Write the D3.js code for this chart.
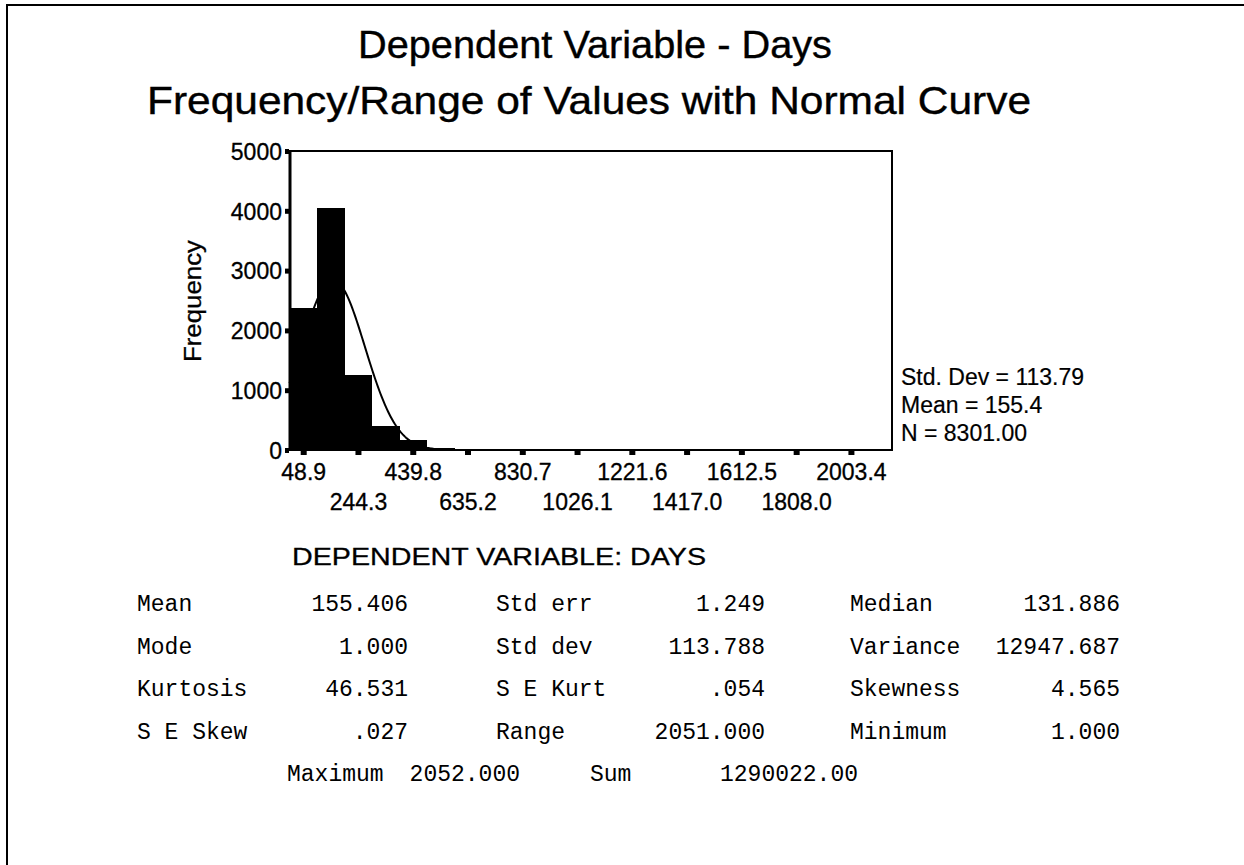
<!DOCTYPE html>
<html><head><meta charset="utf-8">
<script src="https://cdn.jsdelivr.net/npm/d3@7"></script>
<style>body{margin:0;background:#fff}svg{display:block}</style>
</head><body><svg id="c" width="1244" height="865"></svg>
<script>
// ---- data ----
const binCounts = [2380, 4050, 1250, 400, 160, 40, 12, 4, 2, 1, 1, 0, 0, 0, 0, 0, 0, 0, 0, 0, 1];
const binStart = 0.04, binWidth = 97.73;
const xTickValues = [48.9, 244.3, 439.8, 635.2, 830.7, 1026.1, 1221.6, 1417.0, 1612.5, 1808.0, 2003.4];
const xTickLabels = ["48.9", "244.3", "439.8", "635.2", "830.7", "1026.1", "1221.6", "1417.0", "1612.5", "1808.0", "2003.4"];
const yTickValues = [0, 1000, 2000, 3000, 4000, 5000];
const yTickLabels = ["0", "1000", "2000", "3000", "4000", "5000"];
const meanVal = 155.4, sdVal = 113.79, nVal = 8301;
const legendLines = ["Std. Dev = 113.79", "Mean = 155.4", "N = 8301.00"];
const titleLines = ["Dependent Variable - Days", "Frequency/Range of Values with Normal Curve"];
const subTitle = "DEPENDENT VARIABLE: DAYS";
const statLabels = [["Mean", "Std err", "Median"], ["Mode", "Std dev", "Variance"], ["Kurtosis", "S E Kurt", "Skewness"], ["S E Skew", "Range", "Minimum"]];
const statValues = [["155.406", "1.249", "131.886"], ["1.000", "113.788", "12947.687"], ["46.531", ".054", "4.565"], [".027", "2051.000", "1.000"]];
const lastLabels = ["Maximum", "Sum"];
const lastValues = ["2052.000", "1290022.00"];

// ---- layout ----
const svg = d3.select("#c");
const sans = "'Liberation Sans', Arial, sans-serif";
const mono = "'Liberation Mono', 'Courier New', monospace";
const L = 290, R = 892, T = 151, B = 450;

// page frame
svg.append("path").attr("d", "M7,865 V5 H1244").attr("fill", "none").attr("stroke", "#000").attr("stroke-width", 2);

// titles
const tl = [{x: 358, y: 58, s: 38, w: 474}, {x: 147, y: 114, s: 39, w: 884}];
titleLines.forEach((t, i) => {
  svg.append("text").attr("x", tl[i].x).attr("y", tl[i].y).attr("font-family", sans).attr("font-size", tl[i].s)
    .attr("stroke", "#000").attr("stroke-width", 0.4)
    .attr("textLength", tl[i].w).attr("lengthAdjust", "spacingAndGlyphs").text(t);
});

const x = d3.scaleLinear().domain([0, 2150]).range([289.5, R]);
const y = d3.scaleLinear().domain([0, 5000]).range([B, T]);

// bars
svg.append("g").attr("shape-rendering", "crispEdges").selectAll("rect").data(binCounts).join("rect")
  .attr("x", (d, i) => x(binStart + i * binWidth))
  .attr("width", (d, i) => x(binStart + (i + 1) * binWidth) - x(binStart + i * binWidth) + 0.8)
  .attr("y", d => y(d)).attr("height", d => B - y(d)).attr("fill", "#000");

// normal curve
const pts = d3.range(0, 2150, 4).map(v => [v, nVal * binWidth / (sdVal * Math.sqrt(2 * Math.PI)) * Math.exp(-0.5 * ((v - meanVal) / sdVal) ** 2)]);
svg.append("path").datum(pts).attr("fill", "none").attr("stroke", "#000").attr("stroke-width", 2)
  .attr("d", d3.line().x(d => x(d[0])).y(d => y(d[1])));

// plot frame
svg.append("rect").attr("x", L).attr("y", T).attr("width", R - L).attr("height", B - T)
  .attr("fill", "none").attr("stroke", "#000").attr("stroke-width", 2);
svg.append("line").attr("x1", L).attr("x2", L).attr("y1", T).attr("y2", B).attr("stroke", "#000").attr("stroke-width", 3);

// x axis
const gx = svg.append("g").attr("transform", `translate(0,${B})`)
  .call(d3.axisBottom(x).tickValues(xTickValues).tickSize(5).tickFormat((d, i) => xTickLabels[i]));
gx.select(".domain").remove();
gx.selectAll(".tick line").attr("stroke-width", 6).attr("y1", 1);
gx.selectAll(".tick text").attr("font-family", sans).attr("font-size", 23).attr("fill", "#000")
  .attr("stroke", "#000").attr("stroke-width", 0.3)
  .attr("dy", 0).attr("y", (d, i) => i % 2 ? 60 : 30);

// y axis
const gy = svg.append("g").attr("transform", `translate(${L},0)`)
  .call(d3.axisLeft(y).tickValues(yTickValues).tickSize(5).tickFormat((d, i) => yTickLabels[i]));
gy.select(".domain").remove();
gy.selectAll(".tick line").attr("stroke-width", 5).attr("x1", -1);
gy.selectAll(".tick text").attr("font-family", sans).attr("font-size", 23).attr("fill", "#000")
  .attr("stroke", "#000").attr("stroke-width", 0.3)
  .attr("x", -8).attr("dy", "0.36em");

// y label
svg.append("text").attr("transform", "translate(201,301) rotate(-90)").attr("text-anchor", "middle")
  .attr("font-family", sans).attr("font-size", 23).attr("textLength", 122).attr("lengthAdjust", "spacingAndGlyphs")
  .attr("stroke", "#000").attr("stroke-width", 0.3)
  .text("Frequency");

// legend
const legY = [385, 413, 441];
legendLines.forEach((t, i) => svg.append("text").attr("x", 901).attr("y", legY[i])
  .attr("font-family", sans).attr("font-size", 23).attr("stroke", "#000").attr("stroke-width", 0.2).text(t));

// subtitle
svg.append("text").attr("x", 292).attr("y", 565).attr("font-family", sans).attr("font-size", 24)
  .attr("stroke", "#000").attr("stroke-width", 0.3)
  .attr("textLength", 414).attr("lengthAdjust", "spacingAndGlyphs").text(subTitle);

// stats table
const colLab = [137, 496, 850], colVal = [408, 765, 1120];
const rowY = [611, 654, 696, 739];
statLabels.forEach((row, r) => row.forEach((lab, c) => {
  svg.append("text").attr("x", colLab[c]).attr("y", rowY[r]).attr("font-family", mono).attr("font-size", 23).text(lab);
  svg.append("text").attr("x", colVal[c]).attr("y", rowY[r]).attr("text-anchor", "end").attr("font-family", mono).attr("font-size", 23).text(statValues[r][c]);
}));
const lastLab = [287, 590], lastVal = [520, 858];
lastLabels.forEach((lab, c) => {
  svg.append("text").attr("x", lastLab[c]).attr("y", 781).attr("font-family", mono).attr("font-size", 23).text(lab);
  svg.append("text").attr("x", lastVal[c]).attr("y", 781).attr("text-anchor", "end").attr("font-family", mono).attr("font-size", 23).text(lastValues[c]);
});
</script></body></html>
